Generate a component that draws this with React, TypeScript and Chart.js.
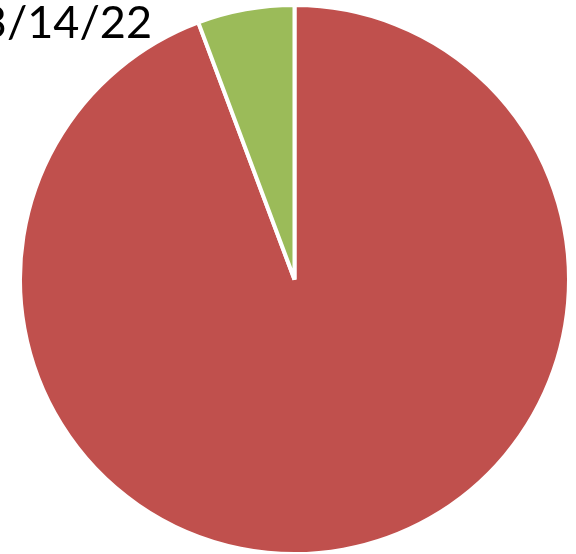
import React, { useEffect, useRef } from "react";
import { Chart, registerables } from "chart.js";

Chart.register(...registerables);

const titleText = "3/14/22";
const categories = ["Series A", "Series B"];
const values = [94.3, 5.7];
const colors = ["#C0504D", "#9BBB59"];

const titlePlugin = {
  id: "cutTitle",
  afterDraw(chart: any) {
    const ctx = chart.ctx;
    ctx.save();
    ctx.font = "45px Lato";
    ctx.fillStyle = "#000000";
    ctx.textAlign = "right";
    ctx.textBaseline = "alphabetic";
    ctx.fillText(titleText, 152, 38);
    ctx.restore();
  },
};

export default function App() {
  const ref = useRef<HTMLCanvasElement | null>(null);
  useEffect(() => {
    if (!ref.current) return;
    const chart = new Chart(ref.current, {
      type: "pie",
      data: {
        labels: categories,
        datasets: [
          {
            data: values,
            backgroundColor: colors,
            borderColor: "#FFFFFF",
            borderWidth: 4,
          },
        ],
      },
      options: {
        responsive: false,
        animation: false,
        layout: { padding: { left: 18, right: 5, top: 3, bottom: 4 } },
        plugins: {
          legend: { display: false },
          title: { display: false },
          tooltip: { enabled: false },
        },
      },
      plugins: [titlePlugin],
    });
    return () => chart.destroy();
  }, []);
  return (
    <canvas
      ref={ref}
      width={576}
      height={560}
      style={{ position: "fixed", left: 0, top: 0, width: 576, height: 560 }}
    />
  );
}
